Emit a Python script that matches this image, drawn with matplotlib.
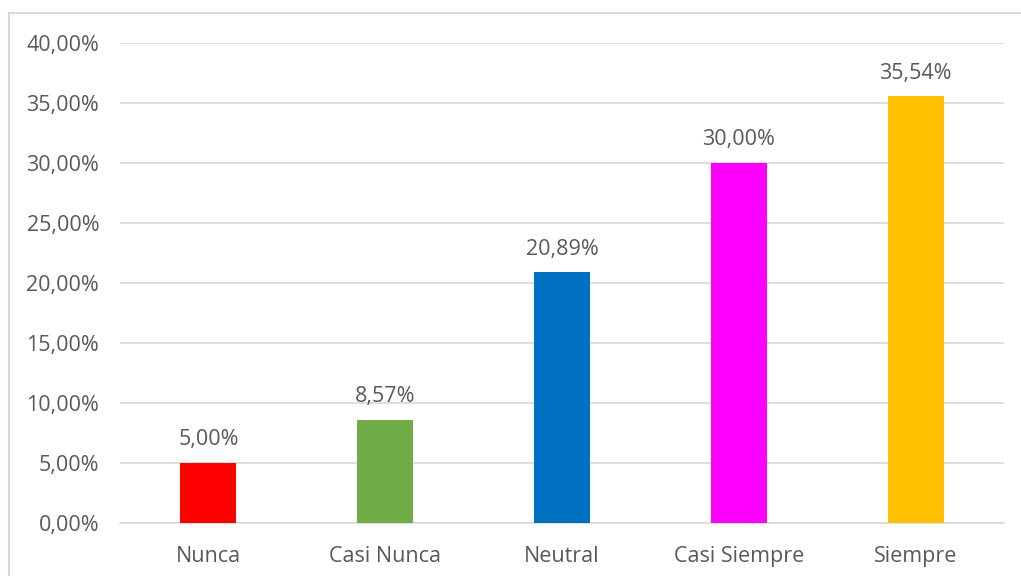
import matplotlib.pyplot as plt
from matplotlib.lines import Line2D
from matplotlib.ticker import FuncFormatter

categories = ["Nunca", "Casi Nunca", "Neutral", "Casi Siempre", "Siempre"]
values = [5.00, 8.57, 20.89, 30.00, 35.54]
colors = ["#FF0000", "#70AD47", "#0070C0", "#FF00FF", "#FFC000"]

plt.rcParams['font.family'] = ['Open Sans', 'DejaVu Sans']
text_color = "#595959"
grid_color = "#D9D9D9"

def pct(v, pos=None):
    return ("%.2f%%" % v).replace(".", ",")

fig = plt.figure(figsize=(10.21, 5.76), dpi=100)
ax = fig.add_axes([0.1175, 0.0925, 0.8659, 0.8333])

x = range(len(categories))
bars = ax.bar(x, values, width=0.316, color=colors, zorder=3)

for b, v in zip(bars, values):
    ax.annotate(pct(v), (b.get_x() + b.get_width() / 2, v),
                xytext=(0, 9), textcoords="offset points",
                ha="center", va="bottom", fontsize=15.5, color=text_color)

ax.set_xlim(-0.5, 4.5)
ax.set_ylim(0, 40)
ax.set_yticks(range(0, 41, 5))
ax.yaxis.set_major_formatter(FuncFormatter(pct))
ax.set_xticks(list(x))
ax.set_xticklabels(categories)
ax.tick_params(axis='both', length=0, labelsize=15.5, labelcolor=text_color)
ax.tick_params(axis='y', pad=15)
ax.tick_params(axis='x', pad=16.5)
ax.grid(axis='y', color=grid_color, linewidth=1.2, zorder=0)
for s in ["top", "right", "left"]:
    ax.spines[s].set_visible(False)
ax.spines["bottom"].set_color(grid_color)
ax.spines["bottom"].set_linewidth(1.2)

# outer chart border (only left and top visible in the crop)
bx = 8.5 / 1021
by = 1 - 13 / 576
fig.add_artist(Line2D([bx, bx], [0, by], transform=fig.transFigure,
                      color=grid_color, linewidth=1.5))
fig.add_artist(Line2D([bx, 1], [by, by], transform=fig.transFigure,
                      color=grid_color, linewidth=1.5))

fig.savefig("out.png", dpi=100)
